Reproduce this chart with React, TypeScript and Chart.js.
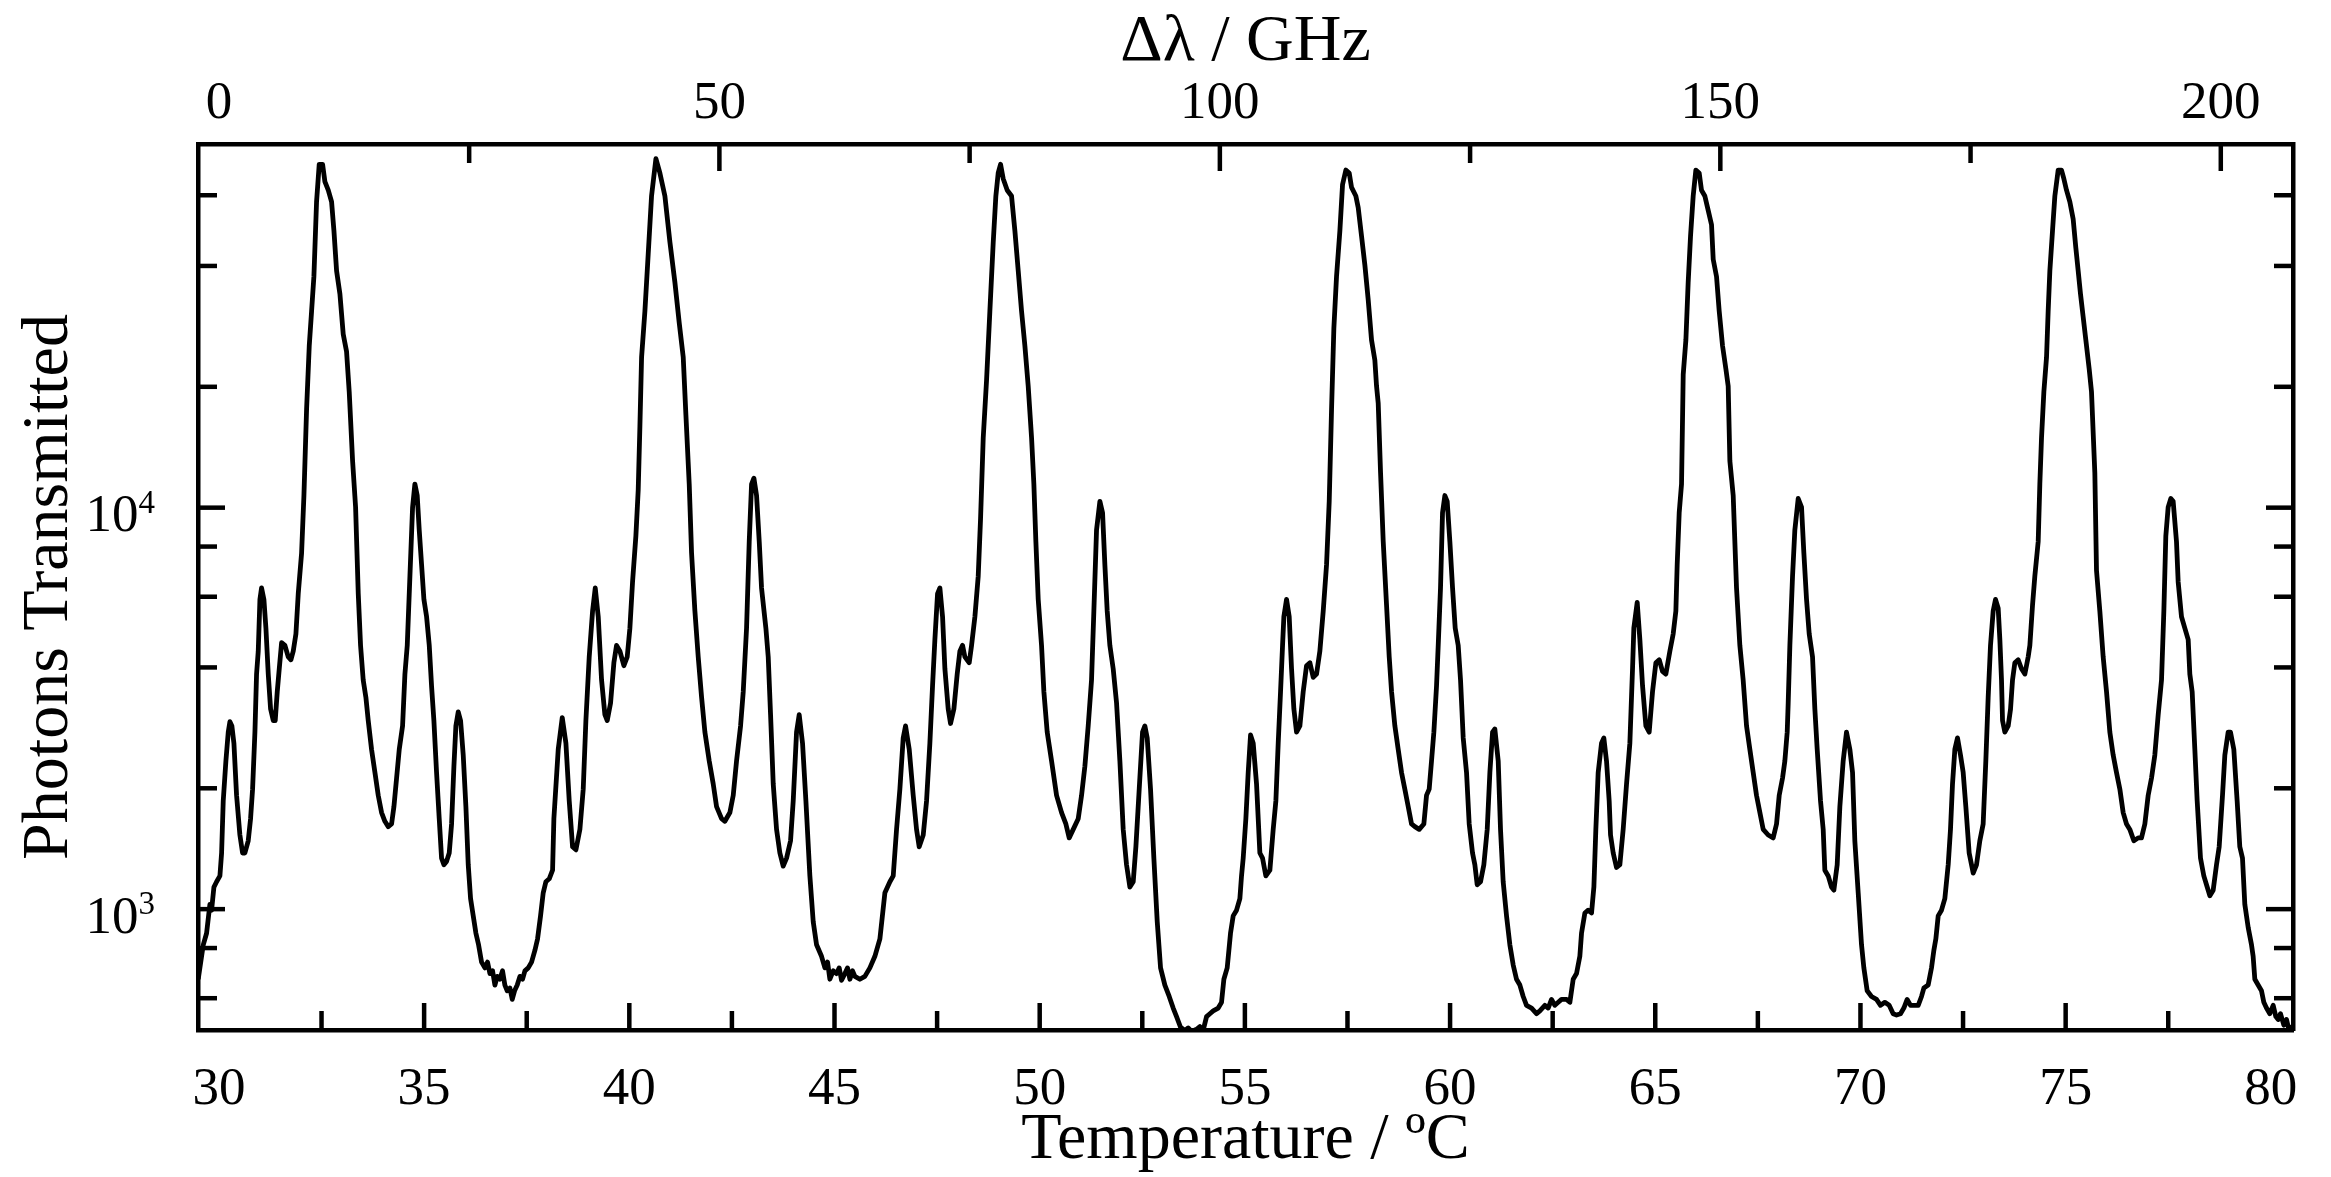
import React, { useEffect, useRef } from "react";
import { Chart, registerables } from "chart.js";

Chart.register(...registerables);

// ---- Data (temperature in °C, photons transmitted) ----
const temperatureC: number[] = [
  29.496, 29.618, 29.699, 29.78, 29.821, 29.878, 29.943, 30.024, 30.065, 30.105, 30.17, 30.227, 30.268, 30.316, 30.365, 30.43, 30.511, 30.576, 30.633, 30.714,
  30.771, 30.82, 30.877, 30.917, 30.958, 30.999, 31.039, 31.096, 31.145, 31.202, 31.259, 31.324, 31.372, 31.421, 31.47, 31.527, 31.608, 31.689, 31.754, 31.811,
  31.876, 31.933, 32.014, 32.071, 32.136, 32.201, 32.258, 32.314, 32.379, 32.444, 32.526, 32.582, 32.664, 32.745, 32.802, 32.867, 32.948, 33.029, 33.11, 33.175,
  33.257, 33.33, 33.395, 33.451, 33.516, 33.581, 33.638, 33.719, 33.801, 33.882, 33.963, 34.044, 34.126, 34.207, 34.264, 34.329, 34.394, 34.475, 34.532, 34.589,
  34.654, 34.719, 34.775, 34.832, 34.881, 34.938, 34.995, 35.06, 35.125, 35.181, 35.238, 35.303, 35.368, 35.425, 35.482, 35.547, 35.612, 35.669, 35.726, 35.774,
  35.831, 35.888, 35.953, 36.018, 36.075, 36.132, 36.197, 36.262, 36.327, 36.4, 36.481, 36.546, 36.603, 36.668, 36.725, 36.781, 36.846, 36.911, 36.968, 37.025,
  37.09, 37.147, 37.204, 37.269, 37.334, 37.399, 37.456, 37.537, 37.618, 37.699, 37.764, 37.837, 37.902, 37.967, 38.049, 38.13,
  38.162, 38.268, 38.366, 38.455, 38.536, 38.617, 38.699, 38.796, 38.877, 38.942, 39.023, 39.105, 39.17, 39.243, 39.324, 39.405, 39.462, 39.543, 39.624, 39.689,
  39.771, 39.868, 39.949, 40.014, 40.079, 40.16, 40.217, 40.258, 40.299, 40.38, 40.461, 40.542, 40.648, 40.745, 40.867, 40.989, 41.111, 41.216, 41.314, 41.379,
  41.46, 41.517, 41.598, 41.679, 41.761, 41.842, 41.947, 42.045, 42.126, 42.248, 42.329, 42.451, 42.532, 42.613, 42.711, 42.776, 42.857, 42.922, 42.979, 43.036,
  43.101, 43.166, 43.222, 43.328, 43.385, 43.442, 43.507, 43.588, 43.669, 43.75, 43.832, 43.929, 43.994, 44.075, 44.14, 44.221, 44.303, 44.4, 44.481, 44.563,
  44.684, 44.766, 44.831, 44.887, 44.969, 45.05, 45.115, 45.172, 45.253, 45.318, 45.375, 45.44, 45.497, 45.618, 45.74, 45.862, 45.984, 46.106, 46.228, 46.35,
  46.431, 46.512, 46.593, 46.674, 46.731, 46.821, 46.918,
  46.999, 47.064, 47.162, 47.243, 47.324, 47.389, 47.446, 47.511, 47.568, 47.633, 47.69, 47.771, 47.828, 47.909, 47.99, 48.055, 48.12, 48.177, 48.283, 48.34,
  48.421, 48.502, 48.559, 48.624, 48.705, 48.786, 48.868, 48.932, 48.989, 49.046, 49.111, 49.209, 49.314, 49.395, 49.477, 49.558, 49.639, 49.72, 49.802, 49.858,
  49.907, 49.964, 50.045, 50.102, 50.183, 50.289, 50.411, 50.533, 50.638, 50.719, 50.817, 50.939, 51.02, 51.101, 51.182, 51.263, 51.32, 51.385, 51.467, 51.532,
  51.588, 51.645, 51.71, 51.791, 51.873, 51.954, 52.035, 52.116, 52.198, 52.279, 52.344, 52.425, 52.506, 52.563, 52.62, 52.701, 52.782, 52.864, 52.945, 53.05,
  53.156, 53.253, 53.335, 53.432, 53.538, 53.619, 53.7, 53.822, 53.903, 53.984, 54.066, 54.147, 54.228, 54.35, 54.431, 54.488, 54.569, 54.65, 54.715, 54.797,
  54.878, 54.918, 54.959, 55.024, 55.081, 55.138, 55.203, 55.284, 55.365, 55.43, 55.511, 55.609, 55.69,
  55.755, 55.812, 55.869, 55.918, 55.95, 56.015, 56.08, 56.137, 56.194, 56.259, 56.34, 56.421, 56.502, 56.584, 56.665, 56.746, 56.827, 56.909, 56.99, 57.055,
  57.112, 57.168, 57.233, 57.315, 57.38, 57.461, 57.542, 57.599, 57.704, 57.761, 57.843, 57.924, 58.005, 58.086, 58.167, 58.208, 58.249, 58.306, 58.371, 58.452,
  58.517, 58.574, 58.655, 58.736, 58.817, 58.898, 58.98, 59.061, 59.142, 59.248, 59.361, 59.426, 59.491, 59.548, 59.605, 59.67, 59.711, 59.767, 59.816, 59.873,
  59.93, 59.995, 60.06, 60.125, 60.198, 60.255, 60.32, 60.401, 60.466, 60.547, 60.604, 60.661, 60.742, 60.823, 60.905, 60.97, 61.035, 61.091, 61.173, 61.229,
  61.294, 61.376, 61.457, 61.538, 61.619, 61.701, 61.782, 61.863, 61.985, 62.107, 62.188, 62.31, 62.391, 62.472, 62.553, 62.635, 62.716, 62.838, 62.919, 63.0,
  63.081, 63.162, 63.203, 63.284, 63.366, 63.447, 63.504, 63.552, 63.609, 63.69, 63.747, 63.812, 63.877, 63.91, 63.975, 64.056, 64.137, 64.218, 64.3, 64.381,
  64.446, 64.478,
  64.56, 64.625, 64.69, 64.771, 64.852, 64.933, 65.015, 65.096, 65.177, 65.258, 65.356, 65.437, 65.502, 65.534, 65.583, 65.64, 65.681, 65.746, 65.802, 65.859,
  65.924, 65.989, 66.07, 66.127, 66.208, 66.29, 66.371, 66.412, 66.493, 66.558, 66.639, 66.72, 66.777, 66.818, 66.899, 66.98, 67.061, 67.142, 67.224, 67.305,
  67.386, 67.467, 67.549, 67.63, 67.752, 67.873, 67.955, 68.02, 68.101, 68.158, 68.215, 68.239, 68.28, 68.345, 68.401, 68.483, 68.564, 68.621, 68.686, 68.751,
  68.832, 68.889, 68.946, 69.027, 69.092, 69.132, 69.214, 69.295, 69.352, 69.433, 69.498, 69.579, 69.66, 69.742, 69.807, 69.863, 69.945, 70.026, 70.083, 70.164,
  70.269, 70.391, 70.489, 70.594, 70.7, 70.797, 70.879, 70.976, 71.057, 71.138, 71.22, 71.325, 71.407, 71.488, 71.545, 71.65, 71.731, 71.788, 71.837, 71.894,
  71.975, 72.056, 72.138, 72.194, 72.243, 72.3, 72.365, 72.438, 72.503, 72.568, 72.649, 72.747, 72.828, 72.909, 72.99, 73.055, 73.112, 73.169, 73.234, 73.291,
  73.356, 73.397, 73.437, 73.462, 73.518, 73.6, 73.657, 73.705, 73.762, 73.843, 73.925, 74.006, 74.087, 74.128, 74.193, 74.249, 74.331, 74.371, 74.412, 74.469,
  74.534, 74.574, 74.615, 74.68, 74.737, 74.818, 74.899, 74.956, 75.021, 75.102, 75.183, 75.248, 75.305, 75.362, 75.427, 75.492, 75.573, 75.63, 75.711, 75.752,
  75.833, 75.914, 75.996, 76.077, 76.158, 76.239, 76.321, 76.402, 76.483, 76.564, 76.662, 76.767, 76.848, 76.93, 77.011, 77.092, 77.173, 77.255, 77.336, 77.393,
  77.441, 77.498, 77.563, 77.62, 77.701, 77.742, 77.823, 77.904, 77.986, 78.026, 78.083, 78.148, 78.205, 78.286, 78.367, 78.449, 78.514, 78.595, 78.676, 78.741,
  78.822, 78.879, 78.96, 79.017, 79.098, 79.179, 79.244, 79.309, 79.366, 79.448, 79.529, 79.569, 79.61, 79.691, 79.772, 79.829, 79.894, 79.975, 80.057, 80.122,
  80.179, 80.235, 80.317, 80.382, 80.447, 80.503,
];

const photonsTransmitted: number[] = [
  669, 815, 871, 1028, 994, 1135, 1170, 1210, 1380, 1860, 2340, 2760, 2930, 2860, 2590, 1920, 1530, 1380, 1380, 1480,
  1680, 1990, 2760, 3850, 4390, 5910, 6310, 5910, 5010, 3850, 3150, 2950, 2950, 3480, 3970, 4610, 4540, 4250, 4180, 4390,
  4850, 6110, 7700, 10720, 17600, 25310, 30860, 37620, 57810, 71660, 71660, 64900, 61760, 57810, 49000, 38890, 34070, 27040, 24490, 19430,
  13070, 10030, 6110, 4540, 3720, 3370, 2950, 2500, 2190, 1920, 1740, 1655, 1605, 1630, 1800, 2120, 2500, 2860, 3850, 4540,
  6750, 10030, 11450, 10720, 8790, 7210, 5910, 5350, 4540, 3600, 2950, 2190, 1680, 1340, 1290, 1315, 1380, 1630, 2270, 2860,
  3100, 2950, 2420, 1800, 1290, 1062, 962, 871, 815, 738, 714, 738, 691, 702, 647, 680, 669, 702, 647, 626,
  636, 596, 626, 647, 680, 669, 702, 714, 738, 789, 843, 962, 1098, 1170, 1190, 1250,
  1680, 2500, 3000, 2590, 1860, 1430, 1405, 1580, 1990, 2950, 4250, 5530, 6310, 5350, 3720, 3050, 2950, 3260, 4110, 4540,
  4390, 4040, 4250, 5010, 6530, 8500, 11080, 15940, 23690, 30860, 42940, 59750, 74000, 68190, 59750, 45870, 36400, 28880, 23690, 17030,
  11450, 7700, 5530, 4250, 3370, 2760, 2340, 2050, 1800, 1680, 1655, 1740, 1920, 2340, 2860, 3480, 5010, 8230, 11450, 11840,
  10720, 8230, 6310, 5010, 4250, 3050, 2050, 1580, 1380, 1280, 1340, 1480, 1860, 2760, 3050, 2590, 1860, 1210, 931, 815,
  763, 714, 738, 669, 702, 691, 714, 665, 691, 714, 669, 702, 680, 669, 680, 714, 763, 843, 1098, 1170,
  1210, 1580, 1990, 2670, 2860, 2500, 1920,
  1580, 1430, 1530, 1860, 2590, 3600, 4690, 6110, 6310, 5350, 3970, 3150, 2900, 3150, 3850, 4390, 4540, 4250, 4110, 4540,
  5350, 6750, 9390, 14920, 20760, 30860, 45870, 59750, 68190, 71660, 65980, 61760, 59750, 49000, 38890, 30860, 25310, 20080, 14920, 11450,
  8230, 5910, 4540, 3480, 2760, 2340, 1920, 1740, 1630, 1505, 1580, 1680, 1920, 2270, 2860, 3720, 5530, 8790, 10370, 9710,
  7210, 5530, 4540, 3970, 3260, 2340, 1580, 1290, 1135, 1170, 1430, 1990, 2760, 2860, 2670, 1990, 1340, 931, 714, 647,
  606, 567, 540, 508, 498, 506, 496, 502, 510, 499, 540, 549, 558, 567, 586, 669, 714, 871, 962, 994,
  1062, 1210, 1340, 1680, 2190, 2715, 2590, 2050, 1380, 1340, 1210, 1250, 1580,
  1860, 2590, 3480, 4540, 5350, 5910, 5350, 3970, 3150, 2760, 2860, 3480, 4040, 4110, 3780, 3850, 4390, 5530, 7210, 10370,
  17600, 27950, 37620, 49000, 63830, 69330, 68190, 62790, 59750, 55930, 47410, 40190, 32970, 26160, 23300, 20080, 18190, 12230, 8230, 5720,
  4250, 3480, 2860, 2500, 2190, 1990, 1800, 1630, 1605, 1580, 1630, 1920, 1990, 2340, 2760, 3600, 4540, 6310, 9710, 10720,
  10370, 8230, 6310, 5010, 4540, 3720, 2670, 2190, 1630, 1380, 1290, 1150, 1170, 1290, 1580, 2190, 2760, 2810, 2340, 1580,
  1170, 962, 815, 726, 669, 647, 606, 576, 567, 549, 558, 576, 567, 596, 576, 586, 596, 596, 586, 669,
  691, 763, 871, 978, 994, 978, 1135, 1580, 2190, 2590, 2670, 2340, 1860, 1530, 1380, 1270, 1290, 1580, 2050, 2590,
  3970, 5010,
  5810, 4690, 3600, 2860, 2760, 3480, 4110, 4180, 3910, 3850, 4390, 4850, 5530, 7210, 9710, 11450, 21460, 26160, 36400, 47410,
  59750, 69330, 68190, 61760, 59750, 55020, 50650, 41540, 37620, 30860, 25310, 22180, 20080, 13070, 10720, 6310, 4540, 3720, 2860, 2500,
  2190, 1920, 1740, 1580, 1530, 1505, 1630, 1920, 2120, 2340, 2760, 3260, 4540, 6750, 8790, 10540, 10030, 7700, 5910, 4850,
  4250, 3150, 2500, 1860, 1580, 1250, 1210, 1135, 1115, 1290, 1800, 2340, 2760, 2500, 2190, 1480, 1098, 815, 714, 626,
  606, 596, 576, 586, 576, 549, 545, 549, 567, 596, 576, 576, 576, 606, 636, 647, 714, 789, 843, 962,
  994, 1062, 1290, 1580, 2050, 2500, 2670, 2420, 2190, 1800, 1380, 1230, 1290, 1480, 1630, 2340, 3370, 4540, 5530, 5910,
  5620, 4690, 3720, 2950, 2760, 2860, 3150, 3720, 4110, 4180, 3970, 3850, 4250, 4540, 5720, 6750, 8230, 11450, 14920, 19430,
  23690, 30860, 38890, 49000, 59750, 69330, 69330, 65980, 61760, 57810, 52350, 44380, 38890, 34070, 29850, 26160, 22180, 19430, 12230, 6970,
  5530, 4250, 3480, 2760, 2420, 2190, 1990, 1740, 1630, 1580, 1480, 1505, 1505, 1630, 1920, 2120, 2420, 3050, 3720, 5530,
  8500, 10030, 10540, 10370, 8230, 6530, 5350, 5010, 4690, 3850, 3480, 2500, 1860, 1340, 1210, 1135, 1080, 1115, 1290, 1430,
  1920, 2420, 2760, 2760, 2500, 1860, 1430, 1340, 1028, 900, 815, 763, 669, 647, 626, 586, 567, 549, 576, 540,
  531, 549, 514, 531, 497, 514,
];

// ---- Axis ticks ----
const temperatureTickLabels: number[] = [30, 35, 40, 45, 50, 55, 60, 65, 70, 75, 80];
const temperatureMajorMarks: number[] = [35, 40, 45, 50, 55, 60, 65, 70, 75];
const temperatureMinorMarks: number[] = [32.5, 37.5, 42.5, 47.5, 52.5, 57.5, 62.5, 67.5, 72.5, 77.5];
const ghzTickLabels: number[] = [0, 50, 100, 150, 200];
const ghzMajorMarks: number[] = [50, 100, 150, 200];
const ghzMinorMarks: number[] = [25, 75, 125, 175];
const photonLabelTicks: number[] = [1000, 10000];
const photonMajorMarks: number[] = [1000, 10000];
const photonMinorMarks: number[] = [600, 800, 2000, 4000, 6000, 8000, 20000, 40000, 60000];

const T_MIN = 29.49;
const T_MAX = 80.54;
const GHZ_PER_DEGREE = 4.1;
const Y_MIN = 500;
const Y_MAX = 80500;

const FONT = '"Liberation Serif", "Times New Roman", Times, serif';
const TICK_SIZE = 53;
const TITLE_SIZE = 66;
const FRAME_W = 4.5;
const CURVE_W = 4.8;

const innerTicksPlugin = {
  id: "innerTicks",
  afterDraw(chart: any) {
    const { ctx, chartArea: a, scales } = chart;
    const MAJ = 27;
    const MIN = 19;
    ctx.save();
    ctx.strokeStyle = "#000";
    ctx.lineWidth = FRAME_W;
    ctx.lineCap = "butt";
    const line = (x1: number, y1: number, x2: number, y2: number) => {
      ctx.beginPath();
      ctx.moveTo(x1, y1);
      ctx.lineTo(x2, y2);
      ctx.stroke();
    };
    temperatureMajorMarks.forEach((v) => {
      const p = scales.x.getPixelForValue(v);
      line(p, a.bottom, p, a.bottom - MAJ);
    });
    temperatureMinorMarks.forEach((v) => {
      const p = scales.x.getPixelForValue(v);
      line(p, a.bottom, p, a.bottom - MIN);
    });
    ghzMajorMarks.forEach((v) => {
      const p = scales.x2.getPixelForValue(v);
      line(p, a.top, p, a.top + MAJ);
    });
    ghzMinorMarks.forEach((v) => {
      const p = scales.x2.getPixelForValue(v);
      line(p, a.top, p, a.top + MIN);
    });
    photonMajorMarks.forEach((v) => {
      const p = scales.y.getPixelForValue(v);
      line(a.left, p, a.left + MAJ, p);
      line(a.right, p, a.right - MAJ, p);
    });
    photonMinorMarks.forEach((v) => {
      const p = scales.y.getPixelForValue(v);
      line(a.left, p, a.left + MIN, p);
      line(a.right, p, a.right - MIN, p);
    });
    // y tick labels written as 10^n with a raised exponent
    ctx.fillStyle = "#000";
    photonLabelTicks.forEach((v) => {
      const p = scales.y.getPixelForValue(v);
      const exp = String(Math.round(Math.log10(v)));
      const supSize = Math.round(TICK_SIZE * 0.62);
      ctx.font = `${supSize}px ${FONT}`;
      const supW = ctx.measureText(exp).width;
      const right = a.left - 43;
      ctx.textAlign = "right";
      ctx.textBaseline = "alphabetic";
      ctx.fillText(exp, right, p + 5);
      ctx.font = `${TICK_SIZE}px ${FONT}`;
      ctx.fillText("10", right - supW, p + TICK_SIZE * 0.33 + 6);
    });
    ctx.restore();
  },
};

export default function App() {
  const canvasRef = useRef<HTMLCanvasElement | null>(null);

  useEffect(() => {
    document.body.style.margin = "0";
    document.body.style.background = "#fff";
    const canvas = canvasRef.current;
    if (!canvas) return;
    const points = temperatureC.map((t, i) => ({ x: t, y: photonsTransmitted[i] }));
    const tickFont = { family: FONT, size: TICK_SIZE };
    const titleFont = { family: FONT, size: TITLE_SIZE, lineHeight: 1.1 };
    const border = { display: true, color: "#000", width: FRAME_W };

    const chart = new Chart(canvas, {
      type: "line",
      data: {
        datasets: [
          {
            data: points,
            borderColor: "#000",
            borderWidth: CURVE_W,
            borderJoinStyle: "round",
            pointRadius: 0,
            tension: 0,
            fill: false,
            xAxisID: "x",
            yAxisID: "y",
          },
        ],
      },
      options: {
        animation: false,
        responsive: true,
        maintainAspectRatio: false,
        devicePixelRatio: 1,
        events: [],
        layout: { padding: 0 },
        plugins: { legend: { display: false }, tooltip: { enabled: false } },
        scales: {
          x: {
            type: "linear",
            position: "bottom",
            min: T_MIN,
            max: T_MAX,
            afterBuildTicks: (s: any) => {
              s.ticks = temperatureTickLabels.map((v) => ({ value: v }));
            },
            afterFit: (s: any) => {
              s.height = 147;
            },
            grid: { display: false, drawTicks: false },
            border,
            ticks: {
              autoSkip: false,
              maxRotation: 0,
              padding: 28,
              color: "#000",
              font: tickFont,
              callback: (v: any) => String(v),
            },
            title: {
              display: true,
              text: "Temperature / ºC",
              color: "#000",
              font: titleFont,
              padding: { top: 0, bottom: 0 },
            },
          },
          x2: {
            type: "linear",
            position: "top",
            min: (T_MIN - 30) * GHZ_PER_DEGREE,
            max: (T_MAX - 30) * GHZ_PER_DEGREE,
            afterBuildTicks: (s: any) => {
              s.ticks = ghzTickLabels.map((v) => ({ value: v }));
            },
            afterFit: (s: any) => {
              s.height = 144;
            },
            grid: { display: false, drawTicks: false },
            border,
            ticks: {
              autoSkip: false,
              maxRotation: 0,
              padding: 8,
              color: "#000",
              font: tickFont,
              callback: (v: any) => String(v),
            },
            title: {
              display: true,
              text: "Δλ / GHz",
              color: "#000",
              font: titleFont,
              padding: { top: 6, bottom: 0 },
            },
          },
          y: {
            type: "logarithmic",
            position: "left",
            min: Y_MIN,
            max: Y_MAX,
            afterBuildTicks: (s: any) => {
              s.ticks = photonLabelTicks.map((v) => ({ value: v }));
            },
            afterFit: (s: any) => {
              s.width = 198;
            },
            grid: { display: false, drawTicks: false },
            border,
            ticks: { display: false },
            title: {
              display: true,
              text: "Photons Transmitted",
              color: "#000",
              font: titleFont,
              padding: { top: 13, bottom: 0 },
            },
          },
          y2: {
            type: "logarithmic",
            position: "right",
            min: Y_MIN,
            max: Y_MAX,
            afterFit: (s: any) => {
              s.width = 38;
            },
            grid: { display: false, drawTicks: false },
            border,
            ticks: { display: false },
          },
        },
      },
      plugins: [innerTicksPlugin],
    } as any);

    return () => chart.destroy();
  }, []);

  return (
    <div style={{ position: "relative", width: "2331px", height: "1177px", background: "#fff" }}>
      <canvas ref={canvasRef} />
    </div>
  );
}
